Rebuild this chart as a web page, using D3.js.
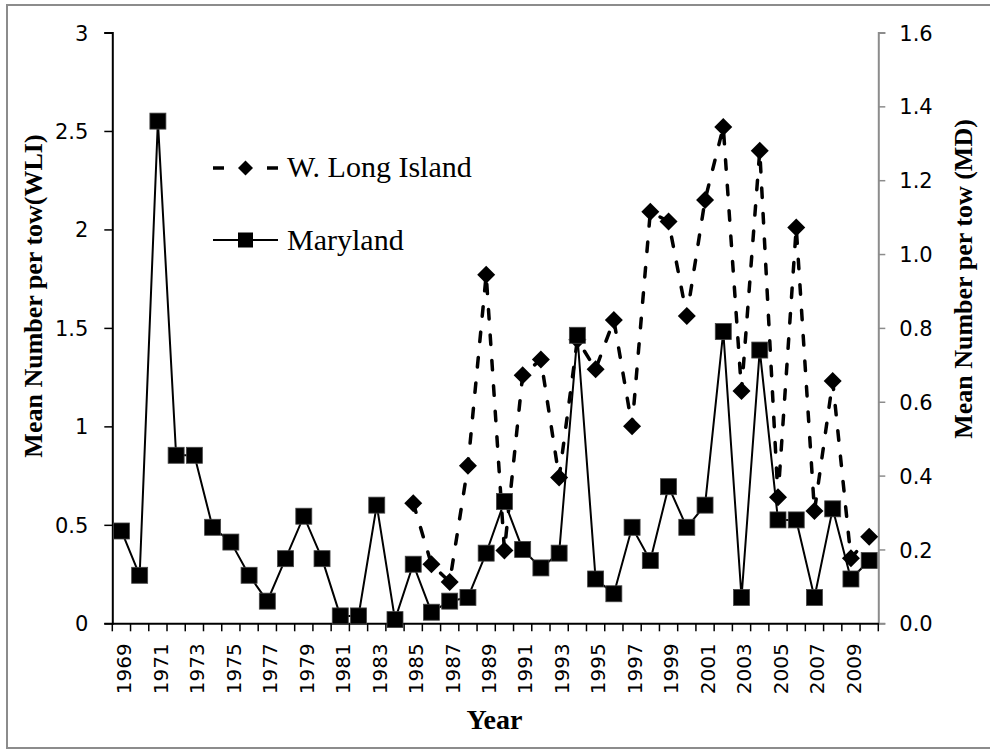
<!DOCTYPE html>
<html>
<head>
<meta charset="utf-8">
<script src="https://cdn.jsdelivr.net/npm/d3@7"></script>
<style>
  body { margin: 0; background: #fff; }
  svg { display: block; }
</style>
</head>
<body>
<div class="svg-container"></div>
<script>
// categories
const years = [1969, 1970, 1971, 1972, 1973, 1974, 1975, 1976, 1977, 1978,
               1979, 1980, 1981, 1982, 1983, 1984, 1985, 1986, 1987, 1988,
               1989, 1990, 1991, 1992, 1993, 1994, 1995, 1996, 1997, 1998,
               1999, 2000, 2001, 2002, 2003, 2004, 2005, 2006, 2007, 2008,
               2009, 2010];

// Maryland, mean number per tow (right axis)
const maryland = [0.25, 0.13, 1.36, 0.455, 0.455, 0.26, 0.22, 0.13, 0.06, 0.175,
                  0.29, 0.175, 0.02, 0.02, 0.32, 0.01, 0.16, 0.03, 0.06, 0.07,
                  0.19, 0.33, 0.2, 0.15, 0.19, 0.78, 0.12, 0.08, 0.26, 0.17,
                  0.37, 0.26, 0.32, 0.79, 0.07, 0.74, 0.28, 0.28, 0.07, 0.31,
                  0.12, 0.17];

// W. Long Island, mean number per tow (left axis), survey starts 1985
const wli = [null, null, null, null, null, null, null, null, null, null,
             null, null, null, null, null, null, 0.61, 0.30, 0.21, 0.80,
             1.77, 0.37, 1.26, 1.34, 0.74, 1.44, 1.29, 1.54, 1.00, 2.09,
             2.04, 1.56, 2.15, 2.52, 1.18, 2.40, 0.64, 2.01, 0.57, 1.23,
             0.33, 0.44];

// tick labels
const leftTicks = [0, 0.5, 1, 1.5, 2, 2.5, 3];
const rightTicks = [0, 0.2, 0.4, 0.6, 0.8, 1.0, 1.2, 1.4, 1.6];
const yearLabels = years.filter((y, i) => i % 2 === 0);

const W = 990, H = 749;
const plot = { left: 112.3, right: 878.3, top: 32.5, bottom: 623.3 };

const svg = d3.select('.svg-container').append('svg')
    .attr('width', W)
    .attr('height', H);

// outer frame
svg.append('rect')
    .attr('x', 7).attr('y', 5)
    .attr('width', W + 10).attr('height', 743)
    .attr('fill', 'none')
    .attr('stroke', '#8c8c8c')
    .attr('stroke-width', 2);

/**
*  scales
*/
const x = d3.scaleBand()
    .domain(years)
    .range([plot.left, plot.right]);

const yLeft = d3.scaleLinear()
    .domain([0, 3])
    .range([plot.bottom, plot.top]);

const yRight = d3.scaleLinear()
    .domain([0, 1.6])
    .range([plot.bottom, plot.top]);

const cx = (d) => x(d) + x.bandwidth() / 2;

/**
*  axes
*/
const leftAxis = svg.append('g')
    .attr('transform', `translate(${plot.left},0)`)
    .call(d3.axisLeft(yLeft)
        .tickValues(leftTicks)
        .tickSize(8)
        .tickPadding(16)
        .tickFormat(d3.format('')));
leftAxis.select('.domain').attr('stroke', '#000').attr('stroke-width', 2);
leftAxis.selectAll('.tick line').attr('stroke', '#000').attr('stroke-width', 1.5);
leftAxis.selectAll('.tick text')
    .attr('dy', '0.36em')
    .style('font-family', '"DejaVu Sans", sans-serif')
    .style('font-size', '21px')
    .attr('fill', '#000');

const rightAxis = svg.append('g')
    .attr('transform', `translate(${plot.right},0)`)
    .call(d3.axisRight(yRight)
        .tickValues(rightTicks)
        .tickSize(7)
        .tickPadding(14)
        .tickFormat(d3.format('.1f')));
rightAxis.select('.domain').attr('stroke', '#8c8c8c').attr('stroke-width', 2);
rightAxis.selectAll('.tick line').attr('stroke', '#8c8c8c').attr('stroke-width', 1.5);
rightAxis.selectAll('.tick text')
    .attr('dy', '0.36em')
    .style('font-family', '"DejaVu Sans", sans-serif')
    .style('font-size', '21px')
    .attr('fill', '#000');

const xAxis = svg.append('g')
    .attr('transform', `translate(0,${plot.bottom})`)
    .call(d3.axisBottom(x)
        .tickValues(yearLabels)
        .tickSize(0)
        .tickSizeOuter(0));
xAxis.select('.domain').attr('stroke', '#000').attr('stroke-width', 2);
xAxis.selectAll('.tick text')
    .attr('transform', 'rotate(-90)')
    .attr('x', -20)
    .attr('y', 2.6)
    .attr('dy', '0.36em')
    .style('text-anchor', 'end')
    .style('font-family', '"DejaVu Sans", sans-serif')
    .style('font-size', '20px')
    .attr('fill', '#000');

// tick marks between the categories
xAxis.selectAll('.cat-tick')
    .data(years.map((d) => x(d)).concat([plot.right]))
    .enter()
    .append('line')
    .attr('class', 'cat-tick')
    .attr('x1', (d) => d).attr('x2', (d) => d)
    .attr('y1', 0).attr('y2', 8)
    .attr('stroke', '#000')
    .attr('stroke-width', 1.5);

/**
*  axis titles
*/
const titleFont = '"Liberation Serif", "Times New Roman", serif';
svg.append('text')
    .attr('transform', 'translate(42,296) rotate(-90)')
    .attr('text-anchor', 'middle')
    .style('font-family', titleFont)
    .style('font-weight', 'bold')
    .style('font-size', '26px')
    .text('Mean Number per tow(WLI)');

svg.append('text')
    .attr('transform', 'translate(972,279) rotate(-90)')
    .attr('text-anchor', 'middle')
    .style('font-family', titleFont)
    .style('font-weight', 'bold')
    .style('font-size', '26px')
    .text('Mean Number per tow (MD)');

svg.append('text')
    .attr('x', 494.5)
    .attr('y', 729)
    .attr('text-anchor', 'middle')
    .style('font-family', titleFont)
    .style('font-weight', 'bold')
    .style('font-size', '28px')
    .text('Year');

/**
*  series
*/
const diamond = (r) => `M0,${-r}L${r},0L0,${r}L${-r},0Z`;

const wliData = years.map((yr, i) => ({ year: yr, value: wli[i] }))
    .filter((d) => d.value !== null);
const mdData = years.map((yr, i) => ({ year: yr, value: maryland[i] }));

svg.append('path')
    .datum(wliData)
    .attr('fill', 'none')
    .attr('stroke', '#000')
    .attr('stroke-width', 3.5)
    .attr('stroke-linecap', 'round')
    .attr('stroke-dasharray', '9.5,16')
    .attr('d', d3.line().x((d) => cx(d.year)).y((d) => yLeft(d.value)));

svg.selectAll('.wli-point')
    .data(wliData)
    .enter()
    .append('path')
    .attr('class', 'wli-point')
    .attr('transform', (d) => `translate(${cx(d.year)},${yLeft(d.value)})`)
    .attr('d', diamond(9))
    .attr('fill', '#000');

svg.append('path')
    .datum(mdData)
    .attr('fill', 'none')
    .attr('stroke', '#000')
    .attr('stroke-width', 2)
    .attr('d', d3.line().x((d) => cx(d.year)).y((d) => yRight(d.value)));

svg.selectAll('.md-point')
    .data(mdData)
    .enter()
    .append('rect')
    .attr('class', 'md-point')
    .attr('x', (d) => cx(d.year) - 8)
    .attr('y', (d) => yRight(d.value) - 8)
    .attr('width', 16)
    .attr('height', 16)
    .attr('fill', '#000')
    .attr('stroke', '#444')
    .attr('stroke-width', 0.8);

/**
*  legend
*/
const legend = svg.append('g').attr('class', 'legend');

legend.append('line')
    .attr('x1', 213).attr('x2', 224).attr('y1', 168).attr('y2', 168)
    .attr('stroke', '#000').attr('stroke-width', 3.5);
legend.append('line')
    .attr('x1', 267).attr('x2', 278).attr('y1', 168).attr('y2', 168)
    .attr('stroke', '#000').attr('stroke-width', 3.5);
legend.append('path')
    .attr('transform', 'translate(245.5,168)')
    .attr('d', diamond(7.5))
    .attr('fill', '#000');
legend.append('text')
    .attr('x', 287).attr('y', 177)
    .style('font-family', titleFont)
    .style('font-size', '30px')
    .text('W. Long Island');

legend.append('line')
    .attr('x1', 213).attr('x2', 278).attr('y1', 240).attr('y2', 240)
    .attr('stroke', '#000').attr('stroke-width', 2);
legend.append('rect')
    .attr('x', 238).attr('y', 232.5)
    .attr('width', 15).attr('height', 15)
    .attr('fill', '#000');
legend.append('text')
    .attr('x', 287).attr('y', 250)
    .style('font-family', titleFont)
    .style('font-size', '30px')
    .text('Maryland');
</script>
</body>
</html>
